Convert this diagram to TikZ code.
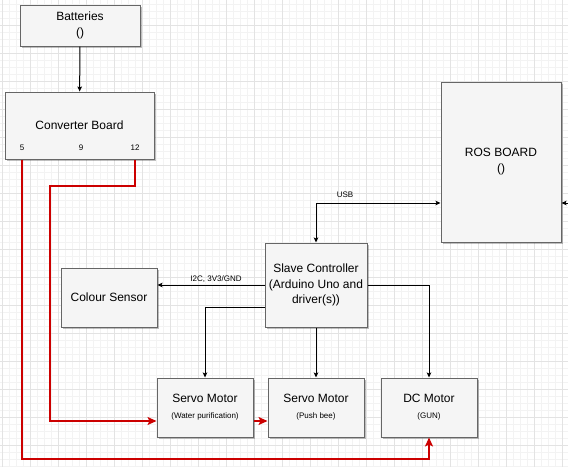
\documentclass[tikz,border=0pt]{standalone}
\usepackage{fontspec}
\setmainfont{Liberation Sans}
\usetikzlibrary{arrows.meta,shadows}
\definecolor{boxfill}{HTML}{F5F5F5}
\definecolor{boxline}{HTML}{666666}
\definecolor{wirered}{HTML}{CC0000}
\definecolor{gridminor}{HTML}{F3F3F3}
\definecolor{gridmajor}{HTML}{E3E3E3}
\newcommand{\subtext}{\fontsize{8}{15}\selectfont}
\tikzset{
  block/.style={draw=boxline,fill=boxfill,line width=1pt,inner sep=0pt,align=center,
    font=\fontsize{12}{16}\selectfont,
    drop shadow={shadow xshift=2pt,shadow yshift=-2pt,opacity=0.25,fill=black}},
  pinnum/.style={font=\fontsize{8}{10}\selectfont,inner sep=0pt},
  signal/.style={->,line width=1pt},
  power/.style={->,draw=wirered,line width=2pt,>={Stealth[length=9pt,width=8pt,inset=2pt]}},
}
\begin{document}
\begin{tikzpicture}[x=1pt,y=-1pt,>={Stealth[length=5pt,width=4.5pt,inset=1pt]}]
\useasboundingbox (0,0) rectangle (568,467);
\fill[white] (0,0) rectangle (568,467);
% background grid
\foreach \gx in {2,9,...,566} \draw[gridminor,line width=0.8pt] (\gx,0) -- (\gx,467);
\foreach \gy in {4,11,...,466} \draw[gridminor,line width=0.8pt] (0,\gy) -- (568,\gy);
\foreach \gx in {2,30,...,566} \draw[gridmajor,line width=0.8pt] (\gx,0) -- (\gx,467);
\foreach \gy in {25,53,...,466} \draw[gridmajor,line width=0.8pt] (0,\gy) -- (568,\gy);
% boxes
\node[block,minimum width=120pt,minimum height=41pt] (bat) at (80,25.5) {Batteries\\()};
\node[block,minimum width=149pt,minimum height=67pt] (conv) at (79.5,125.5) {Converter Board};
\node[pinnum] (c5) at (22,148) {5};
\node[pinnum] (c9) at (81,148) {9};
\node[pinnum] (c12) at (135,148) {12};
\node[block,minimum width=120pt,minimum height=160pt] (ros) at (501,162) {ROS BOARD\\()};
\node[block,minimum width=102pt,minimum height=84pt,font=\fontsize{12}{15.5}\selectfont] (slave) at (316,285)
  {Slave Controller\\(Arduino Uno and\\driver(s))};
\node[block,minimum width=96pt,minimum height=59pt] (colour) at (109,297.5) {Colour Sensor};
\node[block,minimum width=96pt,minimum height=59pt] (servoA) at (205,407.5) {Servo Motor\\\subtext (Water purification)};
\node[block,minimum width=96pt,minimum height=59pt] (servoB) at (316,407.5) {Servo Motor\\\subtext (Push bee)};
\node[block,minimum width=96pt,minimum height=59pt] (dcm) at (429,407.5) {DC Motor\\\subtext (GUN)};
% signal lines
\draw[signal] (bat) -- (conv);
\draw[signal,<->] (slave.north) |- ([yshift=-41pt]ros.west);
\node[pinnum] (usb) at (345,195) {USB};
\coordinate (rosout) at (568,203);
\draw[signal] (rosout) -- ([yshift=-41pt]ros.east);
\draw[signal] (slave.west) -- (slave.west -| colour.east);
\node[pinnum] (i2c) at (216,279) {I2C, 3V3/GND};
\draw[signal] ([yshift=-22pt]slave.west) -| (servoA.north);
\draw[signal] (slave.south) -- (servoB.north);
\draw[signal] (slave.east) -| (dcm.north);
% power lines
\coordinate (jog) at (50,186);
\coordinate (low) at (0,459);
\draw[power] (c12 |- conv.south) |- (jog) |- ([yshift=-13.5pt]servoA.west);
\draw[power] ([yshift=-13.5pt]servoA.east) -- ([yshift=-13.5pt]servoB.west);
\draw[power] (c5 |- conv.south) |- (low -| dcm.south) -- (dcm.south);
\end{tikzpicture}
\end{document}
